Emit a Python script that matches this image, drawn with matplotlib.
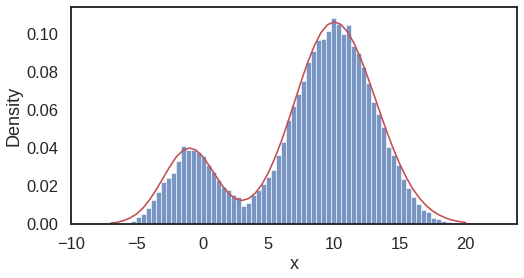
from matplotlib import pyplot as plt
import numpy as np
import seaborn as sns

sns.set_theme(style='white', context='talk')
plt.rcParams['font.family'] = ['Liberation Sans', 'DejaVu Sans']

# histogram, density per bin (bin width 0.38)
bin_edges = np.round(-6.17 + 0.38 * np.arange(69), 2)
density = [0.0003, 0.0007, 0.0014, 0.0037, 0.0055, 0.0084, 0.0125, 0.0168,
           0.0221, 0.0242, 0.0268, 0.0330, 0.0409, 0.0388, 0.0388, 0.0379,
           0.0358, 0.0310, 0.0274, 0.0234, 0.0195, 0.0181, 0.0153, 0.0142,
           0.0095, 0.0110, 0.0151, 0.0177, 0.0209, 0.0247, 0.0286, 0.0365,
           0.0432, 0.0546, 0.0621, 0.0686, 0.0753, 0.0853, 0.0911, 0.0967,
           0.0972, 0.1016, 0.1086, 0.1051, 0.1002, 0.1046, 0.0937, 0.0900,
           0.0826, 0.0744, 0.0642, 0.0581, 0.0510, 0.0405, 0.0362, 0.0309,
           0.0239, 0.0190, 0.0142, 0.0107, 0.0072, 0.0063, 0.0034, 0.0028,
           0.0016, 0.0009, 0.0004, 0.0002]

# red curve
curve_x = [-7, -6.5, -6, -5.5, -5, -4.5, -4, -3.5, -3, -2.5, -2, -1.5, -1,
           -0.5, 0, 0.5, 1, 1.5, 2, 2.5, 3, 3.5, 4, 4.5, 5, 5.5, 6, 6.5, 7,
           7.5, 8, 8.5, 9, 9.5, 10, 10.5, 11, 11.5, 12, 12.5, 13, 13.5, 14,
           14.5, 15, 15.5, 16, 16.5, 17, 17.5, 18, 18.5, 19, 19.5, 20]
curve_y = [0.0004, 0.0009, 0.0018, 0.0032, 0.0054, 0.0086, 0.0130, 0.0183,
           0.0242, 0.0301, 0.0353, 0.0387, 0.0400, 0.0389, 0.0356, 0.0308,
           0.0254, 0.0202, 0.0160, 0.0133, 0.0124, 0.0134, 0.0162, 0.0207,
           0.0270, 0.0348, 0.0438, 0.0539, 0.0645, 0.0752, 0.0852, 0.0939,
           0.1007, 0.1049, 0.1064, 0.1051, 0.1013, 0.0953, 0.0875, 0.0784,
           0.0686, 0.0585, 0.0487, 0.0396, 0.0314, 0.0243, 0.0183, 0.0135,
           0.0097, 0.0068, 0.0047, 0.0031, 0.0020, 0.0013, 0.0008]

fig = plt.figure(figsize=(524 / 72, 278 / 72), dpi=72)
ax = fig.add_axes([0.1355, 0.1942, 0.8511, 0.7806])

ax.bar(bin_edges[:-1], density, width=0.38, align='edge',
       color='#4c72b0', alpha=0.75, edgecolor='white', linewidth=0.75)
ax.plot(curve_x, curve_y, color='#c44e52', linewidth=1.6)

ax.set_xlim(-10, 23.9)
ax.set_ylim(0, 0.1142)
ax.set_xticks([-10, -5, 0, 5, 10, 15, 20])
ax.set_yticks([0.0, 0.02, 0.04, 0.06, 0.08, 0.10])
ax.set_yticklabels(['0.00', '0.02', '0.04', '0.06', '0.08', '0.10'])
ax.set_xlabel('x')
ax.set_ylabel('Density')

fig.savefig('out.png', dpi=72)
